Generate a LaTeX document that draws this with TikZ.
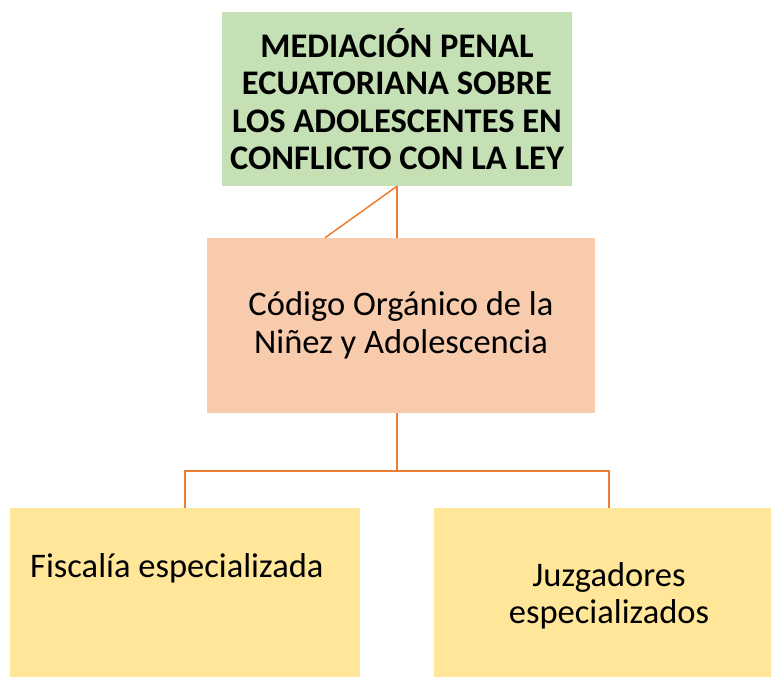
\documentclass[tikz,border=0pt]{standalone}
\usepackage{fontspec}
\setmainfont{Carlito}
\definecolor{gfill}{HTML}{C5E0B4}
\definecolor{pfill}{HTML}{F8CBAD}
\definecolor{yfill}{HTML}{FFE699}
\definecolor{lcol}{HTML}{ED7D31}
\begin{document}
\begin{tikzpicture}[x=1pt,y=-1pt,
  box/.style={rectangle,draw=none,inner sep=0pt,align=center},
  txt/.style={font=\fontsize{34.5}{37.5}\selectfont},
  conn/.style={draw=lcol,line width=1.5pt}]
\useasboundingbox (0,0) rectangle (771,677);
\node[box,fill=gfill,minimum width=350pt,minimum height=174pt,font=\bfseries\fontsize{34.5}{37.5}\selectfont] (g) at (397,99)
  {MEDIACIÓN PENAL\\ECUATORIANA SOBRE\\LOS ADOLESCENTES EN\\CONFLICTO CON LA LEY};
\node[box,fill=pfill,minimum width=388pt,minimum height=175pt,txt] (p) at (401,325.5)
  {Código Orgánico de la\\Niñez y Adolescencia};
\node[box,fill=yfill,minimum width=350pt,minimum height=169pt] (l) at (185,592.5) {};
\node[box,txt,anchor=west] (lt) at (30,568) {Fiscalía especializada};
\node[box,fill=yfill,minimum width=337pt,minimum height=169pt] (r) at (602.5,592.5) {};
\node[box,txt] (rt) at (609,596) {Juzgadores\\especializados};
\draw[conn] (g.south) -- (g.south |- p.north);
\draw[conn] (g.south) -- ([xshift=-76pt]p.north);
\coordinate (mid) at ([yshift=-58pt]p.south -| g.south);
\draw[conn] (p.south -| g.south) -- (mid);
\draw[conn] (l.north) |- (mid) -| ([xshift=6.5pt]r.north);
\end{tikzpicture}
\end{document}
